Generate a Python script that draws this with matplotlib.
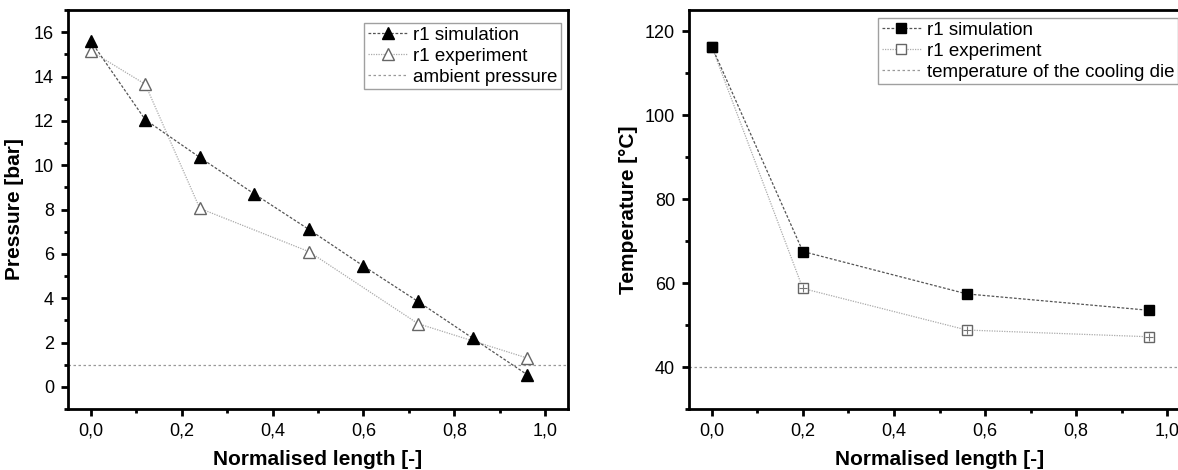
import numpy as np
from matplotlib import pyplot as plt
from matplotlib.ticker import MultipleLocator, FuncFormatter

plt.rcParams['font.family'] = ['Liberation Sans', 'DejaVu Sans']

# pressure panel
p_sim_x = [0.0, 0.12, 0.24, 0.36, 0.48, 0.60, 0.72, 0.84, 0.96]
p_sim_y = [15.6, 12.05, 10.35, 8.7, 7.1, 5.45, 3.85, 2.2, 0.55]
p_exp_x = [0.0, 0.12, 0.24, 0.48, 0.72, 0.96]
p_exp_y = [15.15, 13.65, 8.05, 6.1, 2.85, 1.3]
ambient = 1.0

# temperature panel
t_sim_x = [0.0, 0.2, 0.56, 0.96]
t_sim_y = [116.3, 67.5, 57.4, 53.5]
t_exp_x = [0.0, 0.2, 0.56, 0.96]
t_exp_y = [116.3, 58.7, 48.8, 47.2]
die_temp = 40.0

W, H = 1178, 470
comma = FuncFormatter(lambda v, p: ("%.1f" % v).replace('.', ','))

def style_axes(ax):
    for s in ax.spines.values():
        s.set_linewidth(2.0)
    ax.tick_params(which='major', direction='out', length=5, width=2.0, labelsize=13,
                   pad=5, top=False, right=False)
    ax.tick_params(which='minor', direction='out', length=3, width=2.0,
                   top=False, right=False)
    ax.xaxis.set_major_locator(MultipleLocator(0.2))
    ax.xaxis.set_minor_locator(MultipleLocator(0.1))
    ax.xaxis.set_major_formatter(comma)
    ax.set_xlim(-0.05, 1.05)
    ax.set_xlabel('Normalised length [-]', fontsize=15, fontweight='bold', labelpad=7)

def add_legend(ax, x, y, loc):
    # simulation first, then experiment, then the reference line
    h, l = ax.get_legend_handles_labels()
    order = [1, 0, 2]
    leg = ax.legend([h[i] for i in order], [l[i] for i in order], loc=loc,
                    bbox_to_anchor=(x / W, 1 - y / H), bbox_transform=fig.transFigure,
                    borderaxespad=0, fontsize=13.5, frameon=True, fancybox=False,
                    handlelength=2.1, handletextpad=0.3, labelspacing=0.2,
                    borderpad=0.2)
    leg.get_frame().set_edgecolor('#888888')
    leg.get_frame().set_linewidth(1.0)
    return leg

fig = plt.figure(figsize=(W / 100, H / 100), dpi=100)
ax1 = fig.add_axes([68 / W, 61 / H, 500 / W, 399 / H])
ax2 = fig.add_axes([689 / W, 61 / H, 501 / W, 399 / H])

sim_line = dict(color='#555555', linestyle=(0, (2.2, 1.4)), linewidth=0.9)
exp_line = dict(color='#aaaaaa', linestyle=(0, (1, 1)), linewidth=0.9)

ax1.plot(p_exp_x, p_exp_y, marker='^', markersize=8.5, markerfacecolor='white',
         markeredgecolor='#666666', label='r1 experiment', zorder=3, **exp_line)
ax1.plot(p_sim_x, p_sim_y, marker='^', markersize=8.5, markerfacecolor='black',
         markeredgecolor='black', label='r1 simulation', zorder=4, **sim_line)
ax1.axhline(ambient, color='#999999', linestyle=(0, (2, 2)), linewidth=0.9,
            label='ambient pressure')
ax1.set_ylim(-1, 17)
ax1.yaxis.set_major_locator(MultipleLocator(2))
ax1.yaxis.set_minor_locator(MultipleLocator(1))
ax1.set_ylabel('Pressure [bar]', fontsize=15, fontweight='bold', labelpad=7)
style_axes(ax1)
add_legend(ax1, 561, 23, 'upper right')

ax2.plot(t_exp_x, t_exp_y, marker='s', markersize=7, markerfacecolor='white',
         markeredgecolor='#666666', label='r1 experiment', zorder=3, **exp_line)
ax2.plot(t_exp_x, t_exp_y, linestyle='none', marker='+', markersize=6,
         markeredgecolor='#777777', markeredgewidth=0.8, zorder=3)
ax2.plot(t_sim_x, t_sim_y, marker='s', markersize=7, markerfacecolor='black',
         markeredgecolor='black', label='r1 simulation', zorder=4, **sim_line)
ax2.axhline(die_temp, color='#999999', linestyle=(0, (2, 2)), linewidth=0.9,
            label='temperature of the cooling die')
ax2.set_ylim(30, 125)
ax2.yaxis.set_major_locator(MultipleLocator(20))
ax2.yaxis.set_minor_locator(MultipleLocator(10))
ax2.set_ylabel('Temperature [°C]', fontsize=15, fontweight='bold', labelpad=5)
style_axes(ax2)
add_legend(ax2, 878, 18, 'upper left')

fig.savefig('out.png', dpi=100)
